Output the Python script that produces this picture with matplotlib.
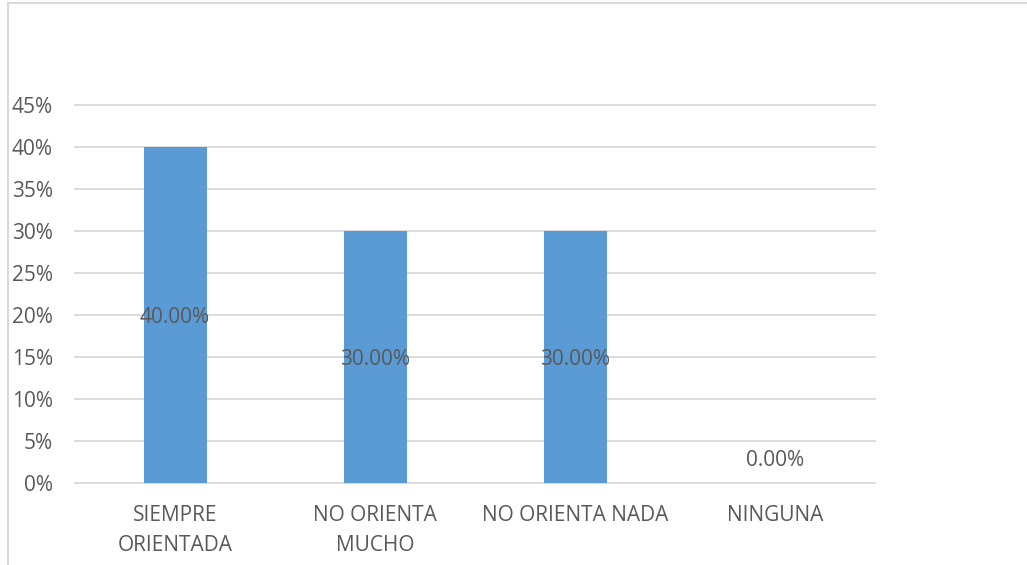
import numpy as np
import matplotlib.pyplot as plt
from matplotlib.lines import Line2D

plt.rcParams['font.family'] = ['Open Sans', 'DejaVu Sans']

# Categories and their percentages
categories = ["SIEMPRE\nORIENTADA", "NO ORIENTA\nMUCHO", "NO ORIENTA NADA", "NINGUNA"]
values = [0.40, 0.30, 0.30, 0.00]
yticks = [0.00, 0.05, 0.10, 0.15, 0.20, 0.25, 0.30, 0.35, 0.40, 0.45]

W, H = 1027, 565
fig = plt.figure(figsize=(W / 100, H / 100), dpi=100)
ax = fig.add_axes([75 / W, (H - 483) / H, 800 / W, (483 - 104.7) / H])

text_color = "#595959"
grid_color = "#d9d9d9"
bar_color = "#5b9bd5"
fs = 15

x = np.arange(len(categories))
ax.bar(x, values, width=0.315, color=bar_color, zorder=3)

ax.set_xlim(-0.5, len(categories) - 0.5)
ax.set_ylim(0, 0.45)
ax.set_yticks(yticks)
ax.set_yticklabels([f"{v * 100:.0f}%" for v in yticks], color=text_color, fontsize=fs)
ax.tick_params(axis='y', length=0, pad=16)
ax.tick_params(axis='x', length=0, pad=16)
ax.set_xticks(x)
ax.set_xticklabels(categories, color=text_color, fontsize=fs, linespacing=1.55)

ax.grid(axis='y', color=grid_color, linewidth=1.3, zorder=0)
for gl in ax.get_ygridlines():
    gl.set_clip_on(False)
for side in ax.spines.values():
    side.set_visible(False)

# Data labels centered in each bar
for xi, v in zip(x, values):
    y = v / 2 if v > 0 else 0.03
    ax.annotate(f"{v * 100:.2f}%", (xi, y), xytext=(0, -2), textcoords='offset points',
                ha='center', va='center', color=text_color, fontsize=fs, zorder=4)

# Chart area border
fig.add_artist(Line2D([8 / W, 1], [1 - 3 / H, 1 - 3 / H], color=grid_color, linewidth=1.5))
fig.add_artist(Line2D([8 / W, 8 / W], [0, 1 - 3 / H], color=grid_color, linewidth=1.5))

fig.savefig("out.png", dpi=100)
